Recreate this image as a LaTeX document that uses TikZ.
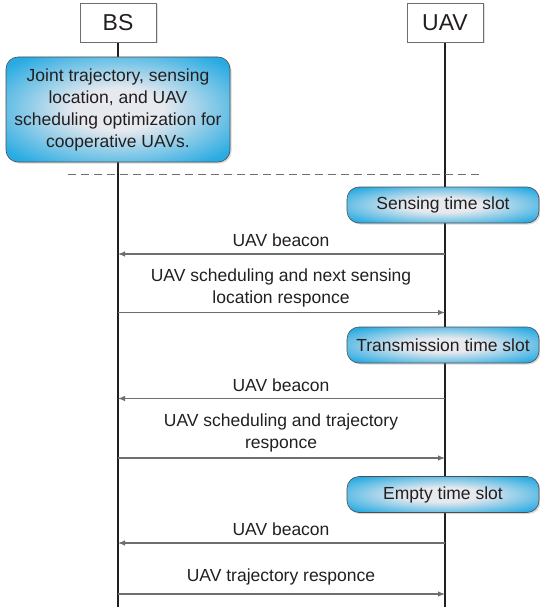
\documentclass[tikz,border=0pt]{standalone}
\usepackage{fontspec}
\setmainfont{Liberation Sans}
\usetikzlibrary{arrows.meta,shadows,backgrounds}
\definecolor{boxblue}{HTML}{29ABE2}
\definecolor{boxlight}{HTML}{E6E9EE}
\definecolor{txt}{HTML}{231F20}
\definecolor{msgc}{HTML}{6D6E71}
\definecolor{edgec}{HTML}{4D4D4F}
\pgfdeclareradialshading{boxshade}{\pgfpoint{0bp}{0bp}}{%
  color(0bp)=(boxlight); color(10bp)=(boxlight); color(21bp)=(boxlight!50!boxblue); color(32bp)=(boxblue); color(50bp)=(boxblue)}
\tikzset{
  every node/.style={text=txt,font=\fontsize{17.5}{22}\selectfont},
  actor/.style={draw=msgc,line width=0.9pt,fill=white,minimum width=76pt,minimum height=39pt,inner sep=0pt,
    font=\fontsize{23}{26}\selectfont,drop shadow={shadow xshift=1.5pt,shadow yshift=-1.5pt,opacity=0.25}},
  bluebox/.style={draw=edgec,line width=0.6pt,rounded corners=12pt,shading=boxshade,inner sep=0pt,
    drop shadow={shadow xshift=1.5pt,shadow yshift=-1.5pt,opacity=0.3}},
  slotbox/.style={bluebox,minimum width=192pt,minimum height=36pt},
  life/.style={draw=txt,line width=1.1pt},
  msg/.style={draw=msgc,line width=1.1pt,-{Latex[length=7pt,width=5.5pt]}},
  lbl/.style={align=center,inner sep=0pt}
}
\begin{document}
\begin{tikzpicture}[x=1pt,y=-1pt]
\useasboundingbox (0,0) rectangle (540,607);
% actors
\node[actor] (bs) at (118,22.5) {BS};
\node[actor] (uav) at (445,22.5) {UAV};
\node[bluebox,minimum width=224pt,minimum height=105pt,align=center] (opt) at (118,109.5)
  {Joint trajectory, sensing\\location, and UAV\\scheduling optimization for\\cooperative UAVs.};
% lifeline ends
\coordinate (bsend) at (118,607);
\coordinate (uavend) at (445,607);
% separator
\coordinate (dl) at (68,174);
\coordinate (dr) at (483,174);
% slots
\node[slotbox] (sense) at (443,205) {Sensing time slot};
\node[slotbox] (trans) at (443,345) {Transmission time slot};
\node[slotbox] (empty) at (443,494.5) {Empty time slot};
\begin{scope}[on background layer]
  \draw[life] (bs.south) -- (opt.north);
  \draw[life] (opt.south) -- (bsend);
  \draw[life] (uav.south) -- (uavend);
  \draw[draw=msgc,line width=0.8pt,dash pattern=on 8pt off 5pt] (dl) -- (dr);
\end{scope}
% message endpoints
\coordinate (m1u) at (445,254);   \coordinate (m1b) at (118,254);
\coordinate (m2b) at (118,312.5); \coordinate (m2u) at (445,312.5);
\coordinate (m3u) at (445,398.5); \coordinate (m3b) at (118,398.5);
\coordinate (m4b) at (118,458);   \coordinate (m4u) at (445,458);
\coordinate (m5u) at (445,543);   \coordinate (m5b) at (118,543);
\coordinate (m6b) at (118,594);   \coordinate (m6u) at (445,594);
\draw[msg] (m1u) -- (m1b);
\draw[msg] (m2b) -- (m2u);
\draw[msg] (m3u) -- (m3b);
\draw[msg] (m4b) -- (m4u);
\draw[msg] (m5u) -- (m5b);
\draw[msg] (m6b) -- (m6u);
% labels
\node[lbl] (l1) at (281,240) {UAV beacon};
\node[lbl] (l2) at (281,288) {UAV scheduling and next sensing\\location responce};
\node[lbl] (l3) at (281,385) {UAV beacon};
\node[lbl] (l4) at (281,432.5) {UAV scheduling and trajectory\\responce};
\node[lbl] (l5) at (281,529) {UAV beacon};
\node[lbl] (l6) at (281,577) {UAV trajectory responce};
\end{tikzpicture}
\end{document}
